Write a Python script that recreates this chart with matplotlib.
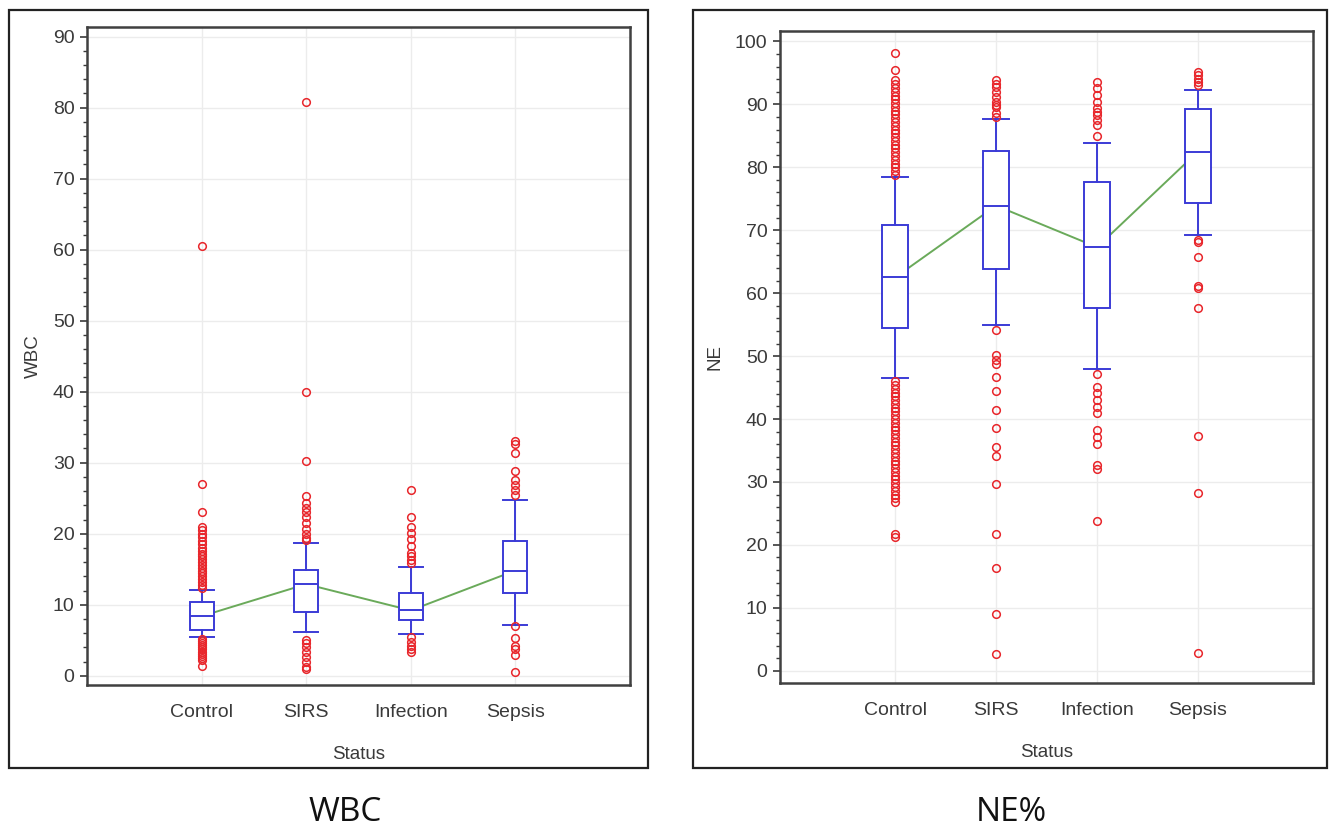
import matplotlib
matplotlib.use('Agg')
import matplotlib.pyplot as plt
from matplotlib.patches import Rectangle
from matplotlib.ticker import MultipleLocator

plt.rcParams['font.family'] = ['Liberation Sans', 'DejaVu Sans']

status = ['Control', 'SIRS', 'Infection', 'Sepsis']

# WBC box statistics
wbc_q1 = [6.5, 9.0, 7.8, 11.7]
wbc_med = [8.4, 12.9, 9.2, 14.8]
wbc_q3 = [10.4, 14.9, 11.6, 19.0]
wbc_lo = [5.5, 6.1, 5.9, 7.2]
wbc_hi = [12.1, 18.7, 15.3, 24.7]
wbc_out_control = [12.4, 12.8, 13.2, 13.6, 14.0, 14.4, 14.8, 15.2, 15.6, 16.0, 16.4, 16.8,
                   17.2, 17.6, 18.0, 18.5, 19.0, 19.5, 20.0, 20.5, 21.0, 23.1, 27.0, 60.5,
                   5.2, 4.9, 4.6, 4.3, 4.0, 3.7, 3.4, 3.1, 2.8, 2.5, 2.2, 1.4]
wbc_out_sirs = [80.8, 40.0, 30.3, 25.3, 24.3, 23.6, 23.0, 22.3, 21.5, 20.6, 20.0, 19.4, 19.1,
                5.1, 4.6, 4.1, 3.4, 2.7, 2.0, 1.3, 0.9]
wbc_out_infection = [26.2, 22.3, 21.0, 20.1, 19.2, 18.2, 17.3, 16.8, 16.3, 15.9,
                     5.4, 4.7, 4.2, 3.8, 3.4]
wbc_out_sepsis = [33.1, 32.6, 31.4, 28.9, 27.5, 26.8, 26.1, 25.5,
                  7.0, 5.3, 4.2, 3.8, 2.9, 0.5]

# NE box statistics
ne_q1 = [54.4, 63.8, 57.7, 74.4]
ne_med = [62.5, 73.9, 67.3, 82.5]
ne_q3 = [70.8, 82.6, 77.6, 89.3]
ne_lo = [46.5, 54.9, 48.0, 69.2]
ne_hi = [78.4, 87.7, 83.8, 92.2]
ne_out_control = [78.8, 79.4, 80.0, 80.6, 81.2, 81.8, 82.4, 83.0, 83.6, 84.2, 84.8, 85.4,
                  86.0, 86.6, 87.2, 87.8, 88.4, 89.0, 89.6, 90.2, 90.8, 91.4, 92.0, 92.6,
                  93.2, 93.9, 95.5, 98.2,
                  46.0, 45.4, 44.8, 44.2, 43.6, 43.0, 42.4, 41.8, 41.2, 40.6, 40.0, 39.4,
                  38.8, 38.2, 37.6, 37.0, 36.4, 35.8, 35.2, 34.6, 34.0, 33.4, 32.8, 32.2,
                  31.6, 31.0, 30.4, 29.8, 29.2, 28.6, 28.0, 27.4, 26.8, 21.8, 21.2]
ne_out_sirs = [93.9, 93.3, 92.8, 92.0, 91.2, 90.4, 89.9, 89.5, 88.6, 88.0,
               54.1, 50.1, 49.3, 48.8, 46.6, 44.5, 41.5, 38.5, 35.6, 34.2, 29.6,
               21.8, 16.4, 9.1, 2.7]
ne_out_infection = [93.6, 92.6, 91.5, 90.4, 89.4, 88.8, 88.3, 87.5, 86.7, 84.9,
                    47.2, 45.1, 44.1, 43.0, 41.9, 40.9, 38.2, 37.2, 36.1, 32.7, 32.1, 23.8]
ne_out_sepsis = [95.2, 94.6, 94.0, 93.5, 93.1,
                 68.4, 68.2, 65.7, 61.2, 60.8, 57.7, 37.3, 28.3, 2.9]

box_color = '#3b3bd6'
out_color = '#e8262b'
line_color = '#6aaa5a'
grid_color = '#ececec'
text_color = '#3a3a3a'


def draw_panel(ax, q1, med, q3, lo, hi, outs, ylabel, ylim, xlim, width):
    pos = [1, 2, 3, 4]
    stats = []
    for i in range(4):
        stats.append(dict(q1=q1[i], med=med[i], q3=q3[i], whislo=lo[i],
                          whishi=hi[i], fliers=outs[i], label=status[i]))
    ax.plot(pos, med, color=line_color, lw=1.4, zorder=2)
    ax.bxp(stats, positions=pos, widths=width, showfliers=True, patch_artist=True,
           boxprops=dict(facecolor='white', edgecolor=box_color, lw=1.4),
           medianprops=dict(color=box_color, lw=1.4),
           whiskerprops=dict(color=box_color, lw=1.4),
           capprops=dict(color=box_color, lw=1.4),
           capwidths=width,
           flierprops=dict(marker='o', markerfacecolor='none', markeredgecolor=out_color,
                           markersize=5.5, markeredgewidth=1.1),
           zorder=3)
    ax.set_xlim(xlim)
    ax.set_ylim(ylim)
    ax.set_xticks(pos)
    ax.set_xticklabels(status)
    ax.yaxis.set_major_locator(MultipleLocator(10))
    ax.yaxis.set_minor_locator(MultipleLocator(2))
    ax.grid(True, color=grid_color, lw=1)
    ax.set_axisbelow(True)
    ax.tick_params(axis='x', length=0, pad=14, labelsize=14, colors=text_color)
    ax.tick_params(axis='y', which='major', length=5, width=1.2, labelsize=14,
                   colors=text_color, pad=4)
    ax.tick_params(axis='y', which='minor', length=3, width=1, color=text_color)
    for s in ax.spines.values():
        s.set_color('#404040')
        s.set_linewidth(1.8)
    ax.set_xlabel('Status', fontsize=13.5, color=text_color, labelpad=18)
    ax.set_ylabel(ylabel, fontsize=13.5, color=text_color, labelpad=8)


fig = plt.figure(figsize=(13.29, 8.32), dpi=100)
fig.patch.set_facecolor('white')

ax1 = fig.add_axes([0.0655, 0.1767, 0.4085, 0.7913])
draw_panel(ax1, wbc_q1, wbc_med, wbc_q3, wbc_lo, wbc_hi,
           [wbc_out_control, wbc_out_sirs, wbc_out_infection, wbc_out_sepsis],
           'WBC', (-1.3, 91.4), (-0.1, 5.1), 0.23)

ax2 = fig.add_axes([0.587, 0.1794, 0.401, 0.7837])
draw_panel(ax2, ne_q1, ne_med, ne_q3, ne_lo, ne_hi,
           [ne_out_control, ne_out_sirs, ne_out_infection, ne_out_sepsis],
           'NE', (-1.9, 101.7), (-0.14, 5.14), 0.26)

fig.add_artist(Rectangle((0.0068, 0.0769), 0.481, 0.911, transform=fig.transFigure,
                         fill=False, ec='#222222', lw=1.6))
fig.add_artist(Rectangle((0.5214, 0.0769), 0.4771, 0.911, transform=fig.transFigure,
                         fill=False, ec='#222222', lw=1.6))

fig.text(0.26, 0.023, 'WBC', fontsize=24, family=['Open Sans', 'DejaVu Sans'],
         ha='center', va='center', color='#111111')
fig.text(0.761, 0.023, 'NE%', fontsize=24, family=['Open Sans', 'DejaVu Sans'],
         ha='center', va='center', color='#111111')

fig.savefig('out.png', dpi=100, facecolor='white')
